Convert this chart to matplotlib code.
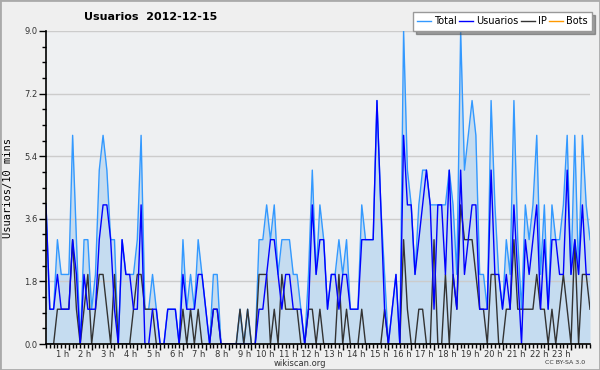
import matplotlib
matplotlib.use("Agg")
import matplotlib.pyplot as plt
from matplotlib.ticker import MultipleLocator
import numpy as np

# ── Data: 10-minute buckets for 2012-12-15 ──────────────────────────────────
usuarios = [4, 1, 1, 2, 1, 1, 1, 3, 2, 0, 2, 1, 1, 1, 3, 4, 4, 3, 1, 0,
            3, 2, 2, 1, 1, 4, 0, 0, 1, 1, 0, 0, 1, 1, 1, 0, 2, 1, 1, 1,
            2, 2, 1, 0, 1, 1, 0, 0, 0, 0, 0, 0, 0, 0, 0, 0, 1, 1, 2, 3,
            3, 2, 1, 2, 2, 1, 1, 1, 0, 1, 4, 2, 3, 3, 1, 2, 2, 1, 2, 2,
            1, 1, 1, 3, 3, 3, 3, 7, 4, 1, 0, 1, 2, 0, 6, 4, 4, 2, 3, 4,
            5, 4, 1, 4, 4, 2, 5, 2, 1, 5, 2, 3, 4, 4, 1, 1, 1, 5, 2, 2,
            1, 2, 1, 4, 2, 0, 3, 2, 3, 4, 1, 3, 1, 3, 3, 2, 2, 5, 2, 3,
            2, 4, 2, 2]
ip = [0, 0, 0, 1, 1, 1, 1, 3, 1, 0, 1, 2, 0, 1, 2, 2, 1, 0, 2, 0,
      0, 0, 0, 1, 2, 2, 1, 1, 1, 0, 0, 0, 0, 0, 0, 0, 1, 0, 1, 0,
      1, 0, 0, 0, 1, 1, 0, 0, 0, 0, 0, 1, 0, 1, 0, 0, 2, 2, 2, 0,
      1, 0, 2, 1, 1, 1, 1, 0, 0, 1, 1, 0, 1, 0, 0, 0, 0, 2, 0, 1,
      0, 0, 0, 1, 0, 0, 0, 0, 0, 1, 0, 0, 0, 0, 3, 1, 0, 0, 1, 1,
      0, 0, 3, 0, 0, 2, 0, 2, 1, 4, 3, 3, 3, 2, 1, 1, 0, 2, 2, 0,
      0, 1, 1, 3, 1, 1, 1, 1, 1, 2, 1, 1, 0, 1, 0, 1, 2, 1, 0, 3,
      0, 2, 2, 1]
total = [4, 1, 1, 3, 2, 2, 2, 6, 3, 0, 3, 3, 1, 2, 5, 6, 5, 3, 3, 0,
         3, 2, 2, 2, 3, 6, 1, 1, 2, 1, 0, 0, 1, 1, 1, 0, 3, 1, 2, 1,
         3, 2, 1, 0, 2, 2, 0, 0, 0, 0, 0, 1, 0, 1, 0, 0, 3, 3, 4, 3,
         4, 2, 3, 3, 3, 2, 2, 1, 0, 2, 5, 2, 4, 3, 1, 2, 2, 3, 2, 3,
         1, 1, 1, 4, 3, 3, 3, 7, 4, 2, 0, 1, 2, 0, 9, 5, 4, 2, 4, 5,
         5, 4, 4, 4, 4, 4, 5, 4, 2, 9, 5, 6, 7, 6, 2, 2, 1, 7, 4, 2,
         1, 3, 2, 7, 3, 1, 4, 3, 4, 6, 2, 4, 1, 4, 3, 3, 4, 6, 2, 6,
         2, 6, 4, 3]
bots = [0] * 144

hours = [1, 2, 3, 4, 5, 6, 7, 8, 9, 10, 11, 12, 13, 14, 15, 16, 17, 18, 19,
         20, 21, 22, 23]
hour_labels = [f"{h} h" for h in hours]
yticks = [0.0, 1.8, 3.6, 5.4, 7.2, 9.0]

x = np.arange(len(total)) / 6.0   # hours

# ── Figure ───────────────────────────────────────────────────────────────────
fig = plt.figure(figsize=(6, 3.7), dpi=100, facecolor="#efefef")
ax = fig.add_axes([46/600, 1 - 344/370, 544/600, 313/370])
ax.set_facecolor("#eef0f2")

ax.fill_between(x, total, 0, color="#c5dcf0", lw=0, zorder=1)
ax.plot(x, bots, color="#ff9900", lw=1, zorder=1)
ax.plot(x, total, color="#3399ff", lw=1, zorder=3, label="Total")
ax.plot(x, usuarios, color="#0000ff", lw=1, zorder=4, label="Usuarios")
ax.plot(x, ip, color="#333333", lw=1, zorder=3, label="IP")
ax.plot([], [], color="#ff9900", lw=1, label="Bots")

ax.set_xlim(0, x[-1])
ax.set_ylim(0, 9)
ax.set_yticks(yticks)
ax.set_yticklabels([f"{v:.1f}" for v in yticks], fontsize=6, color="#333333")
ax.yaxis.set_minor_locator(MultipleLocator(0.45))
ax.set_xticks(hours)
ax.set_xticklabels(hour_labels, fontsize=6, color="#333333")
for lbl in ax.get_xticklabels():
    lbl.set_ha("right")
ax.xaxis.set_minor_locator(MultipleLocator(1/6))
ax.tick_params(axis="y", which="major", length=5, width=1, pad=1)
ax.tick_params(axis="x", which="major", length=4, width=1, pad=0.5)
ax.tick_params(axis="both", which="minor", length=3, width=1)
ax.grid(axis="y", color="#cccccc", lw=1, zorder=0)
for s in ("top", "right"):
    ax.spines[s].set_visible(False)
for s in ("left", "bottom"):
    ax.spines[s].set_linewidth(1.2)
    ax.spines[s].set_zorder(5)

ax.set_ylabel("Usuarios/10 mins", family="DejaVu Sans Mono", fontsize=7.5,
              labelpad=8)
fig.text(151/600, 1 - 17/370, "Usuarios  2012-12-15", ha="center", va="center",
         fontsize=8, fontweight="bold")
fig.text(300/600, 1 - 363/370, "wikiscan.org", ha="center", va="center",
         fontsize=6, color="#333333")
fig.text(565/600, 1 - 363/370, "CC BY-SA 3.0", ha="center", va="center",
         fontsize=4.5, color="#333333")

leg = fig.legend(loc="upper right", bbox_to_anchor=(592/600, 1 - 12/370),
                 ncol=4, fontsize=7, frameon=True, shadow=True,
                 fancybox=False, handlelength=1.4, handletextpad=0.3,
                 columnspacing=0.3, borderpad=0.45, borderaxespad=0)
leg.get_frame().set_edgecolor("#999999")
leg.get_frame().set_linewidth(1)

# outer border of the image
fig.patches.append(plt.Rectangle((0, 0), 1, 1, transform=fig.transFigure,
                                 fill=False, ec="#aaaaaa", lw=2))

fig.savefig("out.png", dpi=100, facecolor=fig.get_facecolor())
